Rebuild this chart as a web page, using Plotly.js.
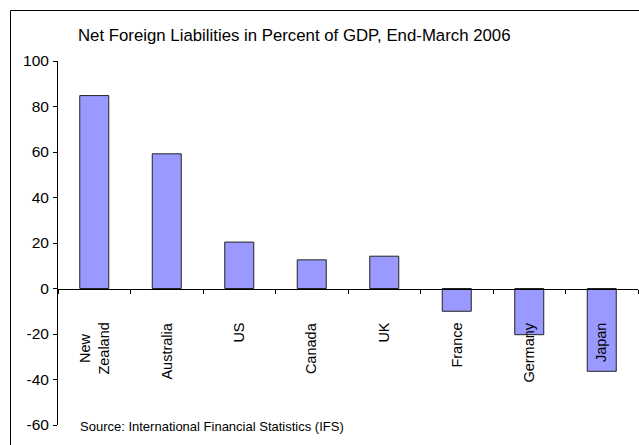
<!DOCTYPE html>
<html>
<head>
<meta charset="utf-8">
<script src="https://cdn.plot.ly/plotly-3.0.1.min.js"></script>
<style>html,body{margin:0;padding:0;background:#fff;}#chart{width:639px;height:445px;}</style>
</head>
<body>
<div id="chart"></div>
<script>
const categories = ["New Zealand", "Australia", "US", "Canada", "UK", "France", "Germany", "Japan"];
const categoryLabels = ["New<br>Zealand", "Australia", "US", "Canada", "UK", "France", "Germany", "Japan"];
const liabilities = [84.8, 59.2, 20.4, 12.6, 14.2, -10.0, -20.3, -36.4];
const yTicks = [-60, -40, -20, 0, 20, 40, 60, 80, 100];
const titleText = "Net Foreign Liabilities in Percent of GDP, End-March 2006";
const sourceText = "Source: International Financial Statistics (IFS)";

const FONT = "Liberation Sans, Arial, sans-serif";

const trace = {
  type: "bar",
  x: categories,
  y: liabilities,
  marker: {color: "#9999FF", line: {color: "#222222", width: 1}},
  hoverinfo: "x+y"
};

const annotations = categories.map((c, i) => ({
  x: c, y: -14, xref: "x", yref: "y",
  text: categoryLabels[i], textangle: -90,
  xanchor: "center", yanchor: "top",
  showarrow: false, align: "center",
  font: {family: FONT, size: 14.5, color: "#000"}
}));
annotations.push({
  x: (78 - 58) / 580, y: -1 / 364, xref: "paper", yref: "paper",
  text: sourceText, showarrow: false,
  xanchor: "left", yanchor: "middle",
  font: {family: FONT, size: 13, color: "#000"}
});

const layout = {
  width: 639, height: 445,
  margin: {l: 58, r: 1, t: 61, b: 20, pad: 0},
  paper_bgcolor: "#fff", plot_bgcolor: "#fff",
  font: {family: FONT, size: 14, color: "#000"},
  title: {text: titleText, x: 78 / 639, xanchor: "left", xref: "container", y: 1 - 35 / 445, yanchor: "middle", yref: "container",
          font: {family: FONT, size: 16.8, color: "#000"}},
  showlegend: false,
  bargap: 0.6,
  xaxis: {
    type: "category",
    anchor: "free", position: 0.375,
    showline: true, linecolor: "#000", linewidth: 1,
    ticks: "outside", tickson: "boundaries", ticklen: 4, tickcolor: "#000", tickwidth: 1,
    showticklabels: false, showgrid: false, zeroline: false,
    range: [-0.5, categories.length - 0.5], fixedrange: true
  },
  yaxis: {
    range: [-60, 100], tickvals: yTicks, ticktext: yTicks.map(String),
    showline: true, linecolor: "#000", linewidth: 1,
    ticks: "outside", ticklen: 4, tickcolor: "#000",
    showgrid: false, zeroline: false,
    tickfont: {family: FONT, size: 15.5, color: "#000"},
    ticklabelstandoff: 1,
    fixedrange: true
  },
  annotations: annotations,
  shapes: [{
    type: "rect", xref: "paper", yref: "paper",
    x0: -(58 - 10.5) / 580, x1: 1.1, y0: -0.2, y1: 1 + (61 - 10.5) / 364,
    line: {color: "#000", width: 1}, fillcolor: "rgba(0,0,0,0)", layer: "below"
  }]
};

Plotly.newPlot("chart", [trace], layout, {displayModeBar: false, staticPlot: true});
</script>
</body>
</html>
